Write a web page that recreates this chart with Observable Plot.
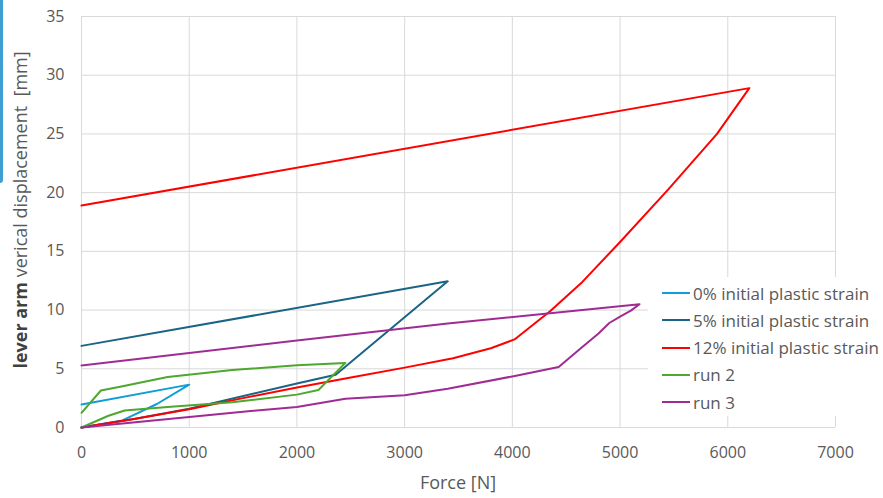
<!DOCTYPE html>
<html>
<head>
<meta charset="utf-8">
<script src="https://cdn.jsdelivr.net/npm/d3@7"></script>
<script src="https://cdn.jsdelivr.net/npm/@observablehq/plot@0.6"></script>
<style>
  html, body { margin: 0; padding: 0; background: #fff; }
  #wrap { position: relative; width: 883px; height: 498px; overflow: hidden; font-family: "Open Sans", sans-serif; }
  #strip { position: absolute; left: 0; top: 0; width: 3px; height: 183px; background: #3f9fd2; border-bottom-right-radius: 3px; }
  #xlabel { position: absolute; left: 81px; width: 754px; top: 470px; text-align: center; font-size: 18px; color: #595959; }
  #ylabel { position: absolute; left: 20px; top: 210px; transform: translate(-50%, -50%) rotate(-90deg); white-space: pre; font-size: 18px; color: #595959; }
  #ylabel b { color: #404040; }
  #legend { position: absolute; left: 648px; top: 277px; width: 235px; height: 139px; background: #fff; }
  .item { position: absolute; left: 14px; height: 20px; display: flex; align-items: center; font-size: 17px; color: #595959; white-space: nowrap; }
  .sw { width: 28px; height: 2px; margin-right: 3px; }
</style>
</head>
<body>
<div id="wrap">
  <div id="chart"></div>
  <div id="strip"></div>
  <div id="xlabel">Force [N]</div>
  <div id="ylabel"><b>lever arm</b> verical displacement  [mm]</div>
  <div id="legend"></div>
</div>
<script>
// Series names and colours
const seriesNames = ["0% initial plastic strain", "5% initial plastic strain", "12% initial plastic strain", "run 2", "run 3"];
const seriesColors = ["#0F9ED5", "#1A6485", "#FF0000", "#4EA72E", "#A02B93"];

// Tick values
const xTicks = [0, 1000, 2000, 3000, 4000, 5000, 6000, 7000];
const yTicks = [0, 5, 10, 15, 20, 25, 30, 35];

// 0% initial plastic strain
const force0 = [0, 380, 700, 1000, 0];
const disp0  = [0, 0.6, 2.0, 3.65, 1.95];

// 5% initial plastic strain
const force5 = [0, 500, 1000, 2000, 2360, 3400, 0];
const disp5  = [0, 0.75, 1.6, 3.75, 4.5, 12.45, 6.95];

// 12% initial plastic strain
const force12 = [0, 500, 1000, 1500, 2000, 2500, 3000, 3450, 3800, 4020, 4350, 4650, 5000, 5450, 5900, 6200, 0];
const disp12  = [0, 0.75, 1.55, 2.5, 3.4, 4.25, 5.1, 5.9, 6.75, 7.5, 9.9, 12.4, 15.8, 20.3, 25.0, 28.9, 18.9];

// run 2
const forceRun2 = [0, 250, 400, 800, 1400, 2000, 2200, 2450, 2000, 1400, 800, 370, 180, 0];
const dispRun2  = [0, 1.0, 1.45, 1.75, 2.15, 2.8, 3.2, 5.5, 5.3, 4.9, 4.3, 3.5, 3.15, 1.25];

// run 3
const forceRun3 = [0, 500, 1000, 1500, 2000, 2450, 3000, 3400, 4000, 4430, 4630, 4800, 4900, 5000, 5100, 5180, 3400, 2000, 0];
const dispRun3  = [0, 0.45, 0.9, 1.35, 1.75, 2.45, 2.75, 3.3, 4.35, 5.15, 6.7, 8.0, 8.9, 9.45, 9.95, 10.5, 8.85, 7.4, 5.28];

const forces = [force0, force5, force12, forceRun2, forceRun3];
const disps = [disp0, disp5, disp12, dispRun2, dispRun3];

const rows = [];
seriesNames.forEach((s, i) => {
  forces[i].forEach((f, j) => rows.push({series: s, force: f, disp: disps[i][j]}));
});

const chart = Plot.plot({
  width: 883,
  height: 498,
  marginLeft: 81,
  marginRight: 48,
  marginTop: 16,
  marginBottom: 71,
  style: {fontFamily: "Open Sans, sans-serif", fontSize: "16px", color: "#595959", background: "#fff", overflow: "visible"},
  x: {domain: [0, 7000]},
  y: {domain: [0, 35]},
  color: {domain: seriesNames, range: seriesColors},
  marks: [
    Plot.ruleX(xTicks, {x: d => d, stroke: "#d9d9d9", strokeWidth: 1}),
    Plot.ruleY(yTicks, {y: d => d, stroke: "#d9d9d9", strokeWidth: 1}),
    Plot.line(rows, {x: "force", y: "disp", z: "series", stroke: "series", strokeWidth: 2, curve: "linear"}),
    Plot.axisX(xTicks, {tickSize: 0, tickPadding: 19, label: null, fill: "#595959", tickFormat: d => String(d)}),
    Plot.axisY(yTicks, {tickSize: 0, tickPadding: 17, label: null, fill: "#595959", tickFormat: d => String(d)})
  ]
});
document.getElementById("chart").appendChild(chart);

// Legend
const legend = document.getElementById("legend");
seriesNames.forEach((s, i) => {
  const it = document.createElement("div");
  it.className = "item";
  it.style.top = (16 + 27.3 * i - 10) + "px";
  const sw = document.createElement("span");
  sw.className = "sw";
  sw.style.background = seriesColors[i];
  const tx = document.createElement("span");
  tx.textContent = s;
  it.appendChild(sw);
  it.appendChild(tx);
  legend.appendChild(it);
});
</script>
</body>
</html>
